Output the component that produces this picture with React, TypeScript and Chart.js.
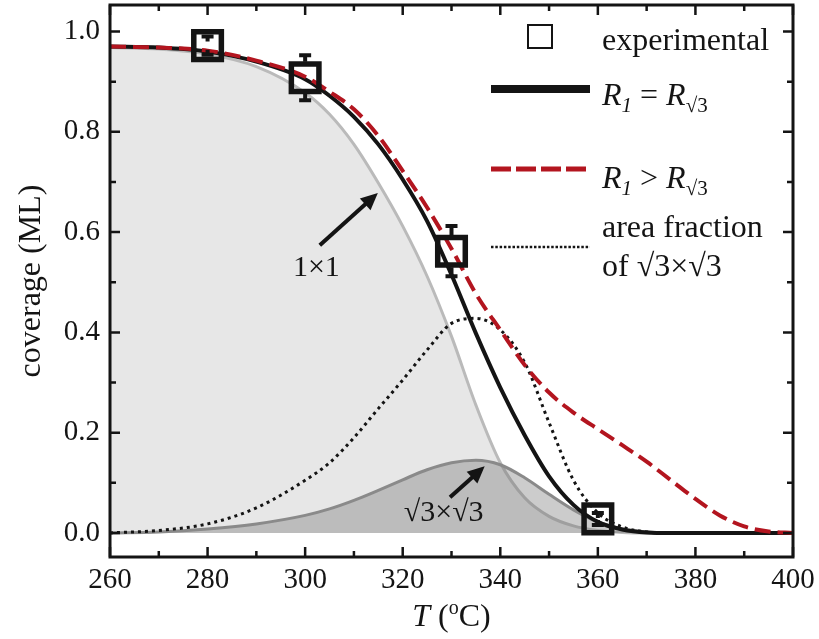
import React, { useEffect, useRef } from 'react';
import { Chart, registerables } from 'chart.js';

Chart.register(...registerables);

// ---------- data ----------
const temps = [260, 270, 280, 290, 300, 305, 310, 315, 320, 325, 330, 335, 340, 345, 350, 355, 360, 365, 370, 375, 380, 385, 390, 395, 400];
const oneByOne = [0.968, 0.965, 0.955, 0.93, 0.878, 0.835, 0.775, 0.698, 0.612, 0.512, 0.392, 0.255, 0.14, 0.07, 0.033, 0.014, 0.005, 0.001, 0, 0, 0, 0, 0, 0, 0];
const sqrt3Phase = [0, 0.002, 0.008, 0.018, 0.035, 0.048, 0.065, 0.085, 0.106, 0.126, 0.14, 0.145, 0.136, 0.11, 0.077, 0.046, 0.022, 0.008, 0.002, 0, 0, 0, 0, 0, 0];
const totalEqual = [0.97, 0.968, 0.96, 0.94, 0.905, 0.872, 0.83, 0.775, 0.705, 0.622, 0.515, 0.398, 0.29, 0.195, 0.113, 0.056, 0.022, 0.007, 0.001, 0, 0, 0, 0, 0, 0];
const totalGreater = [0.97, 0.968, 0.962, 0.942, 0.91, 0.88, 0.845, 0.792, 0.722, 0.649, 0.567, 0.477, 0.405, 0.335, 0.28, 0.24, 0.207, 0.175, 0.142, 0.105, 0.068, 0.035, 0.013, 0.003, 0];
const areaFraction = [0, 0.005, 0.018, 0.05, 0.105, 0.14, 0.19, 0.248, 0.305, 0.365, 0.418, 0.428, 0.405, 0.34, 0.22, 0.105, 0.04, 0.012, 0.002, 0, 0, 0, 0, 0, 0];

const expTemps = [280, 300, 330, 360];
const expCoverage = [0.972, 0.908, 0.562, 0.028];
const expError = [0.018, 0.045, 0.05, 0.012];

const xTicks = [260, 280, 300, 320, 340, 360, 380, 400];
const xMinorTicks = [270, 290, 310, 330, 350, 370, 390];
const yTicks = [0, 0.2, 0.4, 0.6, 0.8, 1.0];
const yMinorTicks = [0.1, 0.3, 0.5, 0.7, 0.9];

const legendLabels = ['experimental', 'R1 = R√3', 'R1 > R√3', 'area fraction', 'of √3×√3'];
const xTitle = 'T (oC)';
const yTitle = 'coverage (ML)';

// annotation anchor points in data coordinates
const annotationLabels = [
  { text: '1×1', x: 302.3, y: 0.528 },
  { text: '√3×√3', x: 328.4, y: 0.039 },
];
const annotationArrows = [
  { x0: 303, y0: 0.574, x1: 314.9, y1: 0.678 },
  { x0: 329.7, y0: 0.071, x1: 336.8, y1: 0.133 },
];

// ---------- style ----------
const FAMILY = "'Liberation Serif', 'Times New Roman', serif";
const INK = '#141414';
const RED = '#b3151f';
const LEG = 32;

const pts = (ys: number[]) => temps.map((t, i) => ({ x: t, y: ys[i] }));

type Run = { text: string; font: string; dy?: number };
function runsWidth(ctx: CanvasRenderingContext2D, runs: Run[]) {
  let w = 0;
  for (const r of runs) {
    ctx.font = r.font;
    w += ctx.measureText(r.text).width;
  }
  return w;
}
function drawRuns(ctx: CanvasRenderingContext2D, x: number, y: number, runs: Run[]) {
  let cx = x;
  for (const r of runs) {
    ctx.font = r.font;
    ctx.fillText(r.text, cx, y + (r.dy || 0));
    cx += ctx.measureText(r.text).width;
  }
}

function arrow(ctx: CanvasRenderingContext2D, x0: number, y0: number, x1: number, y1: number) {
  const ang = Math.atan2(y1 - y0, x1 - x0);
  const hl = 17;
  const hw = 8;
  const bx = x1 - hl * Math.cos(ang);
  const by = y1 - hl * Math.sin(ang);
  ctx.beginPath();
  ctx.moveTo(x0, y0);
  ctx.lineTo(bx + 2 * Math.cos(ang), by + 2 * Math.sin(ang));
  ctx.lineWidth = 4;
  ctx.strokeStyle = INK;
  ctx.stroke();
  ctx.beginPath();
  ctx.moveTo(x1, y1);
  ctx.lineTo(bx + hw * Math.sin(ang), by - hw * Math.cos(ang));
  ctx.lineTo(bx - hw * Math.sin(ang), by + hw * Math.cos(ang));
  ctx.closePath();
  ctx.fillStyle = INK;
  ctx.fill();
}

const decorPlugin = {
  id: 'decor',
  afterDatasetsDraw(chart: any) {
    const ctx: CanvasRenderingContext2D = chart.ctx;
    const xs = chart.scales.x;
    const ys = chart.scales.y;
    // error bars
    const half = 16;
    const capW = 6;
    ctx.save();
    ctx.strokeStyle = INK;
    ctx.lineWidth = 4;
    expTemps.forEach((t, i) => {
      const px = xs.getPixelForValue(t);
      const pc = ys.getPixelForValue(expCoverage[i]);
      const pt = ys.getPixelForValue(expCoverage[i] + expError[i]);
      const pb = ys.getPixelForValue(expCoverage[i] - expError[i]);
      ctx.beginPath();
      if (pt < pc - half) { ctx.moveTo(px, pt); ctx.lineTo(px, pc - half); }
      if (pb > pc + half) { ctx.moveTo(px, pb); ctx.lineTo(px, pc + half); }
      ctx.moveTo(px - capW, pt); ctx.lineTo(px + capW, pt);
      ctx.moveTo(px - capW, pb); ctx.lineTo(px + capW, pb);
      if (pc - pt < half) { ctx.moveTo(px, pt); ctx.lineTo(px, pt + 5); }
      if (pb - pc < half) { ctx.moveTo(px, pb); ctx.lineTo(px, pb - 5); }
      ctx.stroke();
    });
    ctx.restore();
  },
  afterDraw(chart: any) {
    const ctx: CanvasRenderingContext2D = chart.ctx;
    const { left, right, top, bottom } = chart.chartArea;
    const xs = chart.scales.x;
    const ys = chart.scales.y;
    ctx.save();
    // frame
    ctx.strokeStyle = INK;
    ctx.lineWidth = 3;
    ctx.strokeRect(left, top, right - left, bottom - top);
    ctx.lineWidth = 2.5;
    ctx.beginPath();
    const tick = (v: number, len: number, axis: 'x' | 'y') => {
      if (axis === 'x') {
        const p = xs.getPixelForValue(v);
        ctx.moveTo(p, bottom); ctx.lineTo(p, bottom - len);
        ctx.moveTo(p, top); ctx.lineTo(p, top + len);
      } else {
        const p = ys.getPixelForValue(v);
        ctx.moveTo(left, p); ctx.lineTo(left + len, p);
        ctx.moveTo(right, p); ctx.lineTo(right - len, p);
      }
    };
    xTicks.forEach((v) => tick(v, 10, 'x'));
    xMinorTicks.forEach((v) => tick(v, 6, 'x'));
    yTicks.forEach((v) => tick(v, 10, 'y'));
    yMinorTicks.forEach((v) => tick(v, 6, 'y'));
    ctx.stroke();

    // axis titles
    ctx.fillStyle = INK;
    ctx.textBaseline = 'alphabetic';
    ctx.textAlign = 'left';
    const tRuns: Run[] = [
      { text: xTitle.slice(0, 1), font: `italic ${LEG}px ${FAMILY}` },
      { text: ' (', font: `${LEG}px ${FAMILY}` },
      { text: xTitle.slice(3, 4), font: `20px ${FAMILY}`, dy: -12 },
      { text: xTitle.slice(4), font: `${LEG}px ${FAMILY}` },
    ];
    const tw = runsWidth(ctx, tRuns);
    drawRuns(ctx, (left + right) / 2 - tw / 2, 626, tRuns);

    ctx.save();
    ctx.translate(40, (top + bottom) / 2);
    ctx.rotate(-Math.PI / 2);
    ctx.textAlign = 'center';
    ctx.font = `${LEG}px ${FAMILY}`;
    ctx.fillText(yTitle, 0, 0);
    ctx.restore();

    // legend
    const lx0 = 491, lx1 = 590, tx = 602;
    ctx.lineWidth = 2;
    ctx.strokeStyle = INK;
    ctx.strokeRect(528, 25, 24, 23);
    ctx.font = `${LEG}px ${FAMILY}`;
    ctx.fillText(legendLabels[0], tx, 50);

    ctx.beginPath();
    ctx.lineWidth = 8;
    ctx.moveTo(lx0, 89); ctx.lineTo(lx1, 89);
    ctx.stroke();
    drawRuns(ctx, tx, 105, [
      { text: 'R', font: `italic ${LEG}px ${FAMILY}` },
      { text: '1', font: `italic 21px ${FAMILY}`, dy: 7 },
      { text: ' = ', font: `${LEG}px ${FAMILY}` },
      { text: 'R', font: `italic ${LEG}px ${FAMILY}` },
      { text: '√3', font: `21px ${FAMILY}`, dy: 7 },
    ]);

    ctx.beginPath();
    ctx.lineWidth = 5;
    ctx.strokeStyle = RED;
    ctx.setLineDash([20, 5]);
    ctx.moveTo(lx0, 169); ctx.lineTo(lx1, 169);
    ctx.stroke();
    drawRuns(ctx, tx, 188, [
      { text: 'R', font: `italic ${LEG}px ${FAMILY}` },
      { text: '1', font: `italic 21px ${FAMILY}`, dy: 7 },
      { text: ' > ', font: `${LEG}px ${FAMILY}` },
      { text: 'R', font: `italic ${LEG}px ${FAMILY}` },
      { text: '√3', font: `21px ${FAMILY}`, dy: 7 },
    ]);

    ctx.beginPath();
    ctx.lineWidth = 2.5;
    ctx.strokeStyle = INK;
    ctx.setLineDash([2.5, 1.8]);
    ctx.moveTo(lx0, 247); ctx.lineTo(lx1, 247);
    ctx.stroke();
    ctx.setLineDash([]);
    ctx.font = `${LEG}px ${FAMILY}`;
    ctx.fillText(legendLabels[3], tx, 237);
    ctx.fillText(legendLabels[4], tx, 276);

    // annotations
    ctx.textAlign = 'center';
    ctx.textBaseline = 'middle';
    ctx.font = `30px ${FAMILY}`;
    annotationLabels.forEach((a) => {
      ctx.fillText(a.text, xs.getPixelForValue(a.x), ys.getPixelForValue(a.y));
    });
    annotationArrows.forEach((a) => {
      arrow(ctx, xs.getPixelForValue(a.x0), ys.getPixelForValue(a.y0), xs.getPixelForValue(a.x1), ys.getPixelForValue(a.y1));
    });
    ctx.restore();
  },
};

export default function App() {
  const ref = useRef<HTMLCanvasElement | null>(null);
  useEffect(() => {
    if (!ref.current) return;
    const tickFont = { family: FAMILY, size: 29 };
    const chart = new Chart(ref.current, {
      type: 'line',
      data: {
        datasets: [
          {
            label: 'experimental',
            data: expTemps.map((t, i) => ({ x: t, y: expCoverage[i] })),
            showLine: false,
            pointStyle: 'rect',
            pointRadius: 19.5,
            pointBorderWidth: 5.5,
            pointBorderColor: INK,
            pointBackgroundColor: 'rgba(0,0,0,0)',
            order: 1,
          },
          {
            label: 'R1 > R√3',
            data: pts(totalGreater),
            borderColor: RED,
            borderWidth: 4,
            borderDash: [16, 7],
            pointRadius: 0,
            cubicInterpolationMode: 'monotone',
            fill: false,
            order: 2,
          },
          {
            label: 'R1 = R√3',
            data: pts(totalEqual),
            borderColor: INK,
            borderWidth: 4,
            pointRadius: 0,
            cubicInterpolationMode: 'monotone',
            fill: false,
            order: 3,
          },
          {
            label: 'area fraction of √3×√3',
            data: pts(areaFraction),
            borderColor: INK,
            borderWidth: 3,
            borderDash: [3, 4],
            pointRadius: 0,
            cubicInterpolationMode: 'monotone',
            fill: false,
            order: 4,
          },
          {
            label: '√3×√3',
            data: pts(sqrt3Phase),
            borderColor: '#8a8a8a',
            backgroundColor: 'rgba(110,110,110,0.35)',
            borderWidth: 3,
            pointRadius: 0,
            cubicInterpolationMode: 'monotone',
            fill: 'origin',
            order: 5,
          },
          {
            label: '1×1',
            data: pts(oneByOne),
            borderColor: '#bababa',
            backgroundColor: '#e7e7e7',
            borderWidth: 3,
            pointRadius: 0,
            cubicInterpolationMode: 'monotone',
            fill: 'origin',
            order: 6,
          },
        ],
      },
      options: {
        animation: false,
        responsive: false,
        devicePixelRatio: 1,
        layout: { autoPadding: false, padding: { top: 5, right: 26, left: 0, bottom: 0 } },
        plugins: { legend: { display: false }, tooltip: { enabled: false } },
        scales: {
          x: {
            type: 'linear',
            min: 260,
            max: 400,
            afterBuildTicks: (s: any) => { s.ticks = xTicks.map((v) => ({ value: v })); },
            afterFit: (s: any) => { s.height = 82; s.paddingLeft = 0; s.paddingRight = 0; },
            grid: { display: false, drawTicks: false },
            border: { display: false },
            ticks: { font: tickFont, color: INK, padding: 6, maxRotation: 0, autoSkip: false },
          },
          y: {
            type: 'linear',
            min: -0.048,
            max: 1.053,
            afterBuildTicks: (s: any) => { s.ticks = yTicks.map((v) => ({ value: v })); },
            afterFit: (s: any) => { s.width = 110; s.paddingTop = 0; s.paddingBottom = 0; },
            grid: { display: false, drawTicks: false },
            border: { display: false },
            ticks: {
              font: tickFont,
              color: INK,
              padding: 10,
              callback: (v: any) => Number(v).toFixed(1),
            },
          },
        },
      },
      plugins: [decorPlugin],
    } as any);
    return () => chart.destroy();
  }, []);
  return (
    <div style={{ position: 'fixed', left: 0, top: 0, width: 819, height: 639, background: '#fff' }}>
      <canvas ref={ref} width={819} height={639} style={{ display: 'block' }} />
    </div>
  );
}
